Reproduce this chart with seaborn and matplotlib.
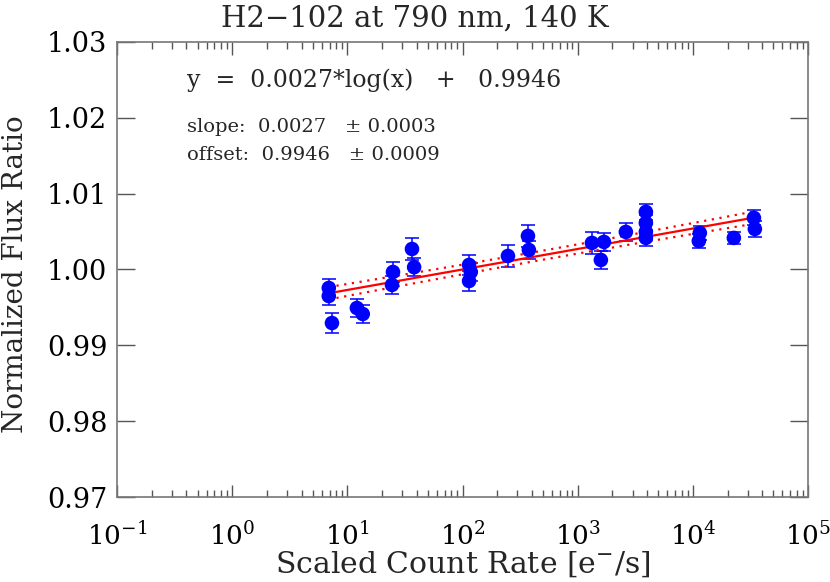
import numpy as np
import pandas as pd
import seaborn as sns
from matplotlib import pyplot as plt
from matplotlib.ticker import NullFormatter

# data
rate = [6.9, 6.9, 7.35, 12.1, 13.6, 24.4, 24.9, 36.4, 38.0, 114, 118, 114,
        248, 370, 377, 1330, 1690, 1590, 2620, 3910, 3910, 3910, 3910,
        11500, 11270, 22700, 33900, 34550]
ratio = [0.99650, 0.99756, 0.99294, 0.99492, 0.99413, 0.99796, 0.99967, 1.00270,
         1.00030, 1.00060, 0.99967, 0.99848, 1.00178, 1.00442, 1.00257, 1.00350,
         1.00363, 1.00125, 1.00495, 1.00759, 1.00613, 1.00495, 1.00416, 1.00482,
         1.00376, 1.00416, 1.00680, 1.00534]
err = [0.0012, 0.0012, 0.0013, 0.0012, 0.0012, 0.0012, 0.0013, 0.0014,
       0.0012, 0.0013, 0.0012, 0.0013, 0.0014, 0.0014, 0.0012, 0.0014,
       0.0012, 0.0012, 0.0012, 0.0011, 0.0011, 0.0011, 0.0011, 0.0009,
       0.0009, 0.0008, 0.0010, 0.0010]
x_ticks = [1e-1, 1e0, 1e1, 1e2, 1e3, 1e4, 1e5]
y_ticks = [0.97, 0.98, 0.99, 1.00, 1.01, 1.02, 1.03]

slope, slope_err = 0.0027, 0.0003
offset, offset_err = 0.9946, 0.0009
band_min, band_center = 0.0006, 2.7

df = pd.DataFrame({'rate': rate, 'ratio': ratio, 'err': err})

sns.set_style('ticks')
plt.rcParams['font.family'] = ['DejaVu Serif']
plt.rcParams['mathtext.fontset'] = 'dejavuserif'

fig = plt.figure(figsize=(8.3, 5.82), dpi=100)
ax = fig.add_axes([0.141, 0.146, 0.8325, 0.782])

# fit line and dotted band
xf = np.logspace(np.log10(df['rate'].min()), np.log10(df['rate'].max()), 100)
yf = slope * np.log10(xf) + offset
half = np.sqrt(band_min ** 2 + (slope_err * (np.log10(xf) - band_center)) ** 2)
ax.plot(xf, yf, color='red', lw=1.6, zorder=3)
ax.plot(xf, yf + half, color='red', lw=1.6, ls=(0, (1, 2.5)), zorder=3)
ax.plot(xf, yf - half, color='red', lw=1.6, ls=(0, (1, 2.5)), zorder=3)

ax.errorbar(df['rate'], df['ratio'], yerr=df['err'], fmt='none',
            ecolor='blue', elinewidth=1.1, capsize=5, capthick=1.1, zorder=2)
sns.scatterplot(data=df, x='rate', y='ratio', ax=ax, color='blue',
                s=110, edgecolor='none', zorder=4)

ax.set_xscale('log')
ax.set_xticks(x_ticks)
ax.set_xlim(0.1, 1e5)
ax.set_yticks(y_ticks)
ax.set_yticklabels(['%.2f' % v for v in y_ticks])
ax.set_ylim(0.97, 1.03)
ax.xaxis.set_minor_formatter(NullFormatter())

ax.tick_params(which='both', direction='in', top=True, right=True,
               colors='#555555', labelcolor='black')
ax.tick_params(axis='y', which='major', length=13, width=1, labelsize=19.5, pad=7)
ax.tick_params(axis='x', which='major', length=9, width=1, labelsize=19, pad=18)
ax.tick_params(axis='x', which='minor', length=5, width=1)
for sp in ax.spines.values():
    sp.set_color('#777777')
    sp.set_linewidth(1.2)

ax.set_xlabel('Scaled Count Rate [e$^{-}$/s]', fontsize=21.5)
ax.set_ylabel('Normalized Flux Ratio', fontsize=20)
ax.xaxis.set_label_coords(0.5, -0.115)
ax.yaxis.set_label_coords(-0.127, 0.49)
fig.text(0.5, 1 - 27 / 582, 'H2\u2212102 at 790 nm, 140 K', fontsize=21,
         ha='center', va='baseline')

ax.text(0.101, 0.915, 'y  =  %.4f*log(x)   +   %.4f' % (slope, offset),
        transform=ax.transAxes, fontsize=17, va='center')
ax.text(0.101, 0.813, 'slope:  %.4f   \u00b1 %.4f' % (slope, slope_err),
        transform=ax.transAxes, fontsize=14, va='center')
ax.text(0.101, 0.752, 'offset:  %.4f   \u00b1 %.4f' % (offset, offset_err),
        transform=ax.transAxes, fontsize=14, va='center')

plt.savefig('out.png', dpi=100)
